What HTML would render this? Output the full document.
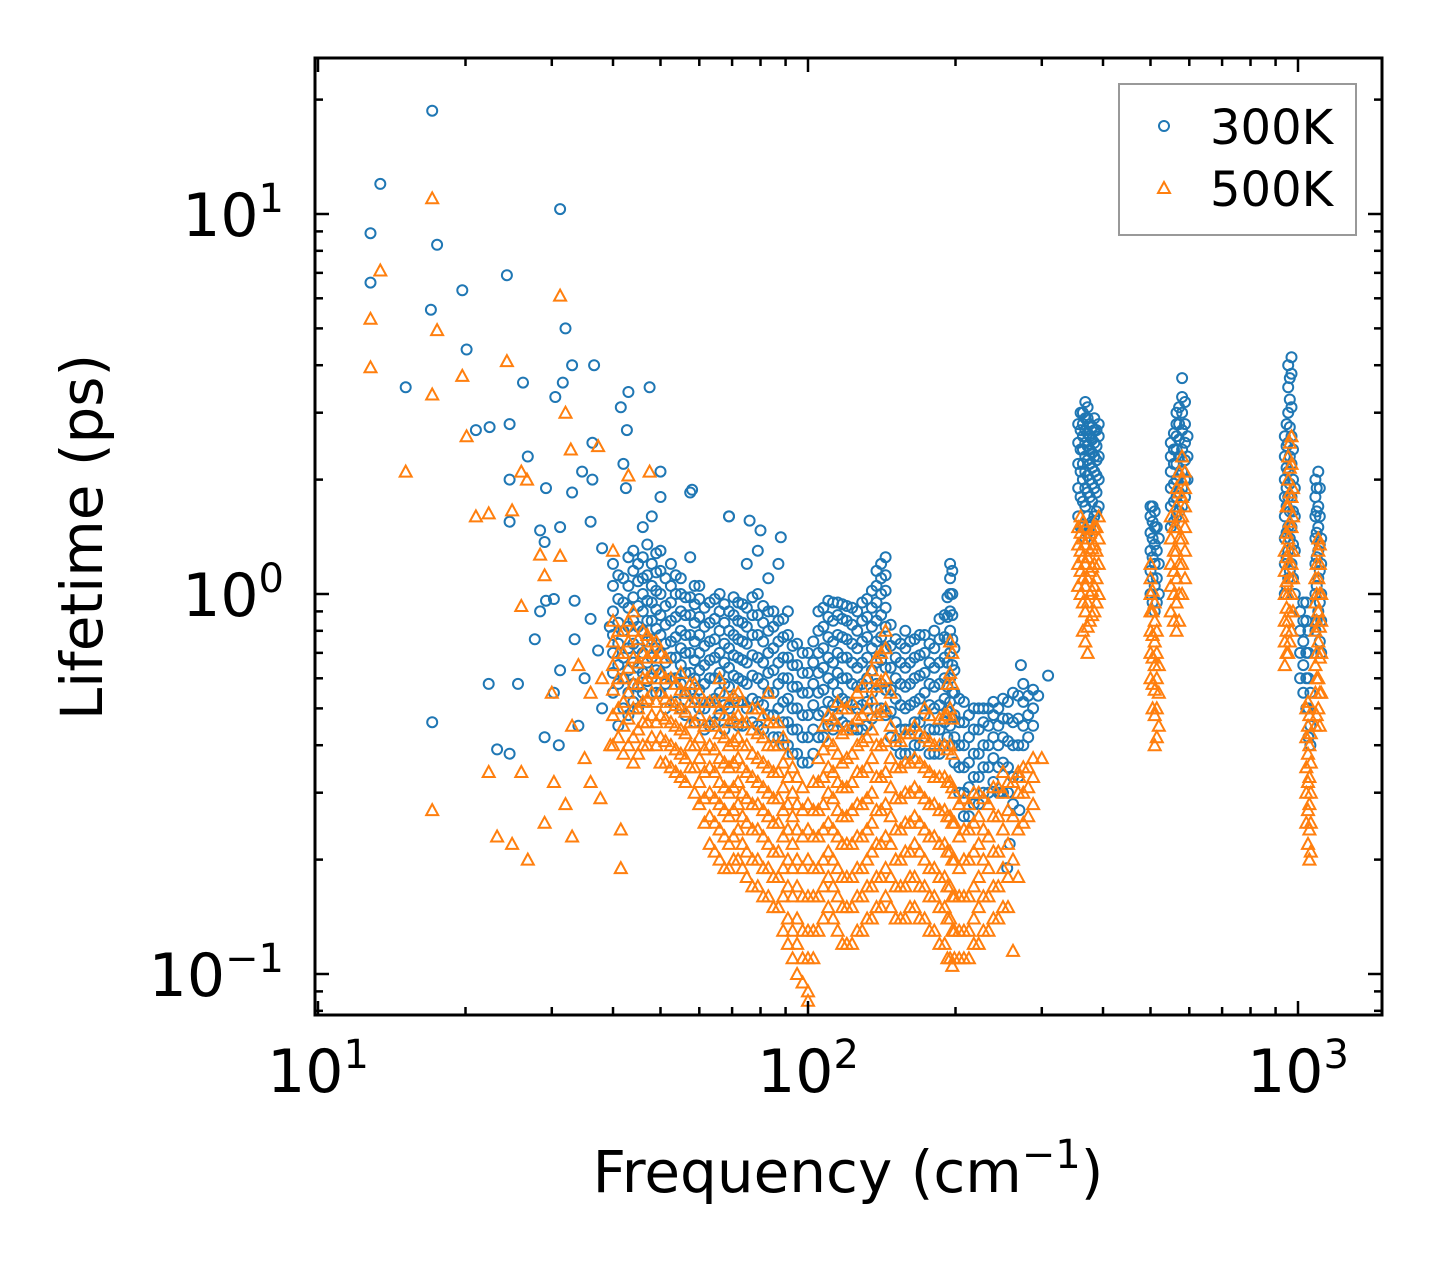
<!DOCTYPE html>
<html><head><meta charset="utf-8"><style>
html,body{margin:0;padding:0;background:#fff;}
svg{display:block;font-family:"DejaVu Sans","Liberation Sans",sans-serif;}
</style></head>
<body>
<svg id="chart" width="1442" height="1265" viewBox="0 0 1442 1265" xmlns="http://www.w3.org/2000/svg">
<rect width="1442" height="1265" fill="#fff"/>
<g id="marks"></g>
<g id="axes"></g>
<text x="848" y="1192" font-size="58" text-anchor="middle">Frequency (cm<tspan font-size="40" dy="-24">−1</tspan><tspan dy="24">)</tspan></text>
<text transform="translate(102,537) rotate(-90)" font-size="58" text-anchor="middle">Lifetime (ps)</text>
<g>
<rect x="1119" y="84" width="237" height="151" fill="#fff" stroke="#999" stroke-width="2"/>
<circle cx="1164" cy="126" r="5" fill="none" stroke="#1f77b4" stroke-width="2"/>
<text x="1210" y="144" font-size="48">300K</text>
<path d="M1164,182 L1170,193 L1158,193 Z" fill="none" stroke="#ff7f0e" stroke-width="2"/>
<text x="1210" y="206" font-size="48">500K</text>
</g>
</svg>
<script>
// ---- data ----
const blueSparse = [[12.8,8.9],[13.4,12],[17.1,18.7],[12.8,6.6],[17.5,8.3],[17.0,5.6],[19.7,6.3],[24.3,6.9],[31.2,10.3],[20.1,4.4],[15.1,3.5],[32,5.0],[33,4.0],[36.6,4.0],[31.6,3.6],[30.5,3.3],[43,3.4],[47.5,3.5],[41.5,3.1],[21,2.7],[22.4,2.75],[24.6,2.8],[26.2,3.6],[42.7,2.7],[36.3,2.5],[42,2.2],[26.8,2.3],[29.2,1.9],[34.6,2.1],[36.3,2.0],[24.6,2.0],[50,2.1],[42.5,1.9],[33,1.85],[31.2,1.5],[36,1.55],[28.4,1.47],[24.6,1.55],[29,1.37],[38,1.32],[58,1.88],[69,1.6],[76,1.56],[80,1.47],[88,1.41],[17.1,0.46],[22.3,0.58],[25.6,0.58],[23.2,0.39],[24.6,0.38],[29,0.42],[30.3,0.55],[29.2,0.96],[30.3,0.97],[28.4,0.9],[33.4,0.96],[36,0.86],[39.4,0.82],[27.7,0.76],[33.4,0.76],[37.3,0.71],[31.2,0.63],[309,0.61],[272,0.65],[295,0.54],[270,0.27],[258,0.22],[255,0.19],[247,0.30],[35,0.6],[38,0.5],[34,0.45],[31,0.4]];
const blueFreqs = [40,42,44,46,48,50,52.5,55,57.5,60,63,66,69,72,75,79,83,87,91,95,100,105,110,115,120,126,132,138,144,151,158,165,173,181,190,195,199,208,218,228,239,250,262,275,288,360,368,376,384,392,500,510,520,550,565,580,595,940,955,970,985,1010,1040,1060,1085,1100,1115];
const blueLifetimes = [
[0.55,0.62,0.7,0.78,0.9,1.05,1.2],[0.5,0.6,0.68,0.8,0.95,1.1],[0.52,0.58,0.66,0.74,0.85,0.98,1.15,1.3],[0.55,0.62,0.7,0.8,0.9,1.0,1.1,1.25,1.5],[0.6,0.68,0.76,0.85,0.95,1.05,1.2,1.6],[0.55,0.62,0.7,0.78,0.88,1.0,1.15,1.3,1.8],[0.6,0.68,0.75,0.85,0.95,1.05,1.2],[0.5,0.58,0.65,0.72,0.8,0.9,1.0,1.1],[0.55,0.62,0.7,0.78,0.88,0.98,1.25,1.85],[0.5,0.56,0.63,0.7,0.78,0.87,0.97,1.05],[0.45,0.52,0.6,0.67,0.75,0.84,0.95],[0.48,0.55,0.62,0.7,0.8,0.9,1.0],[0.5,0.57,0.64,0.72,0.8,0.9,1.6],[0.45,0.52,0.6,0.68,0.76,0.85,0.95],[0.5,0.58,0.66,0.74,0.82,0.92,1.2],[0.45,0.52,0.6,0.68,0.78,0.88,1.0,1.3],[0.48,0.55,0.62,0.7,0.8,0.9,1.1],[0.42,0.5,0.58,0.66,0.75,0.85,1.2],[0.4,0.46,0.53,0.6,0.68,0.78,0.9],[0.38,0.44,0.5,0.57,0.65,0.74],[0.36,0.42,0.48,0.55,0.62,0.7],[0.42,0.48,0.55,0.62,0.7,0.8,0.9],[0.45,0.52,0.6,0.68,0.77,0.87,0.96],[0.48,0.55,0.62,0.7,0.78,0.88,0.95],[0.45,0.52,0.6,0.68,0.76,0.85,0.93],[0.44,0.5,0.57,0.64,0.72,0.8,0.9],[0.45,0.52,0.6,0.68,0.77,0.87,0.97],[0.5,0.58,0.66,0.75,0.85,0.95,1.05,1.15],[0.48,0.56,0.64,0.72,0.82,0.92,1.02,1.12,1.25],[0.4,0.46,0.53,0.6,0.68,0.76],[0.38,0.44,0.5,0.57,0.64,0.72,0.8],[0.4,0.46,0.52,0.6,0.68,0.76],[0.42,0.48,0.55,0.62,0.7,0.78],[0.38,0.44,0.5,0.57,0.64,0.72,0.8],[0.4,0.46,0.53,0.6,0.68,0.77,0.88],[0.45,0.52,0.6,0.7,0.8,0.9,1.0,1.1,1.2],[0.36,0.42,0.48,0.55,0.63,0.72],[0.26,0.3,0.35,0.4,0.46,0.52],[0.28,0.33,0.38,0.44,0.5],[0.3,0.35,0.4,0.46,0.5],[0.32,0.37,0.42,0.48,0.52],[0.3,0.36,0.42,0.47,0.53],[0.28,0.33,0.4,0.46,0.55],[0.4,0.45,0.52,0.58],[0.45,0.5,0.56],
[1.5,1.8,2.1,2.4,2.7,3.0],[1.4,1.7,1.9,2.1,2.3,2.5,2.7,2.9,3.2],[1.5,1.8,2.0,2.2,2.4,2.6,2.8],[1.6,1.9,2.1,2.3,2.5,2.7,2.9],[1.7,2.0,2.3,2.6,2.8],
[1.0,1.15,1.3,1.45,1.6,1.7],[0.9,1.05,1.2,1.35,1.5,1.65],[1.0,1.2,1.4],
[1.5,1.7,1.9,2.1,2.3,2.5],[1.6,1.8,2.0,2.2,2.4,2.6,2.8,3.0],[1.7,1.9,2.1,2.4,2.7,3.0,3.3,3.7],[2.0,2.3,2.6],
[1.0,1.2,1.4,1.6,1.8,2.0,2.3,2.6],[1.1,1.3,1.5,1.8,2.1,2.5,3.0,3.5,4.0],[1.2,1.5,1.8,2.2,2.6,3.1,3.8,4.2],[1.0,1.3,1.6,1.9],
[0.6,0.7,0.8,0.9],[0.5,0.6,0.7,0.85,0.95],[0.4,0.45,0.55],
[0.8,1.0,1.2,1.4,1.6,1.8,2.0],[0.9,1.1,1.3,1.5,1.7,2.1],[0.7,0.85,1.0,1.2,1.4]];
const blueFreqs2 = [41,43,45,47,49,51.2,53.7,56.2,58.7,61.5,64.5,67.5,70.5,73.5,77,81,85,89,93,97.5,102.5,107.5,112.5,117.5,123,129,135,141,147.5,154.5,161.5,169,177,185.5,192.5,197,203.5,213,223,233.5,244.5,256,268.5,281.5,356,364,372,380,388,505,515,558,572,588,948,962,977,1025,1050,1092,1108];
const blueLifetimes2 = [
[0.45,0.58,0.65,0.74,0.84,0.97,1.12],[0.48,0.55,0.63,0.72,0.82,0.92,1.05,1.25],[0.5,0.57,0.64,0.72,0.82,0.93,1.08,1.2],[0.52,0.59,0.66,0.75,0.85,0.96,1.12,1.35],[0.55,0.63,0.72,0.81,0.91,1.02,1.14,1.28],[0.5,0.58,0.66,0.74,0.83,0.93,1.1],[0.52,0.6,0.68,0.77,0.87,1.0,1.12],[0.48,0.55,0.62,0.7,0.78,0.88,0.98],[0.46,0.53,0.6,0.67,0.75,0.84,0.94,1.05],[0.44,0.5,0.58,0.65,0.73,0.82,0.92],[0.46,0.53,0.6,0.68,0.76,0.86,0.97],[0.44,0.51,0.58,0.66,0.74,0.84,0.94],[0.46,0.53,0.61,0.69,0.78,0.88,0.98],[0.45,0.52,0.59,0.67,0.75,0.84,0.94],[0.46,0.53,0.61,0.69,0.78,0.88,0.98],[0.44,0.51,0.58,0.66,0.75,0.84,0.93],[0.42,0.48,0.55,0.63,0.72,0.82,0.9],[0.4,0.46,0.52,0.6,0.68,0.77,0.86],[0.38,0.44,0.5,0.57,0.65,0.73],[0.36,0.42,0.48,0.55,0.62,0.7],[0.38,0.44,0.51,0.58,0.66,0.75],[0.42,0.49,0.56,0.64,0.72,0.82,0.92],[0.44,0.51,0.58,0.66,0.75,0.85,0.95],[0.46,0.53,0.6,0.68,0.77,0.86,0.94],[0.44,0.51,0.58,0.66,0.74,0.83,0.92],[0.44,0.51,0.58,0.66,0.75,0.85,0.95],[0.47,0.55,0.63,0.72,0.82,0.92,1.02],[0.5,0.58,0.67,0.77,0.88,1.0,1.1,1.2],[0.42,0.49,0.56,0.64,0.73,0.83],[0.38,0.44,0.51,0.58,0.66,0.74],[0.38,0.44,0.51,0.58,0.66,0.75],[0.4,0.46,0.53,0.61,0.69,0.78],[0.38,0.44,0.51,0.58,0.66,0.74],[0.38,0.44,0.51,0.58,0.66,0.76,0.86],[0.42,0.49,0.57,0.66,0.76,0.87,0.98],[0.4,0.47,0.55,0.65,0.76,0.88,1.0,1.15],[0.3,0.35,0.4,0.46,0.53],[0.26,0.31,0.36,0.42,0.48],[0.28,0.33,0.38,0.44,0.5],[0.3,0.35,0.4,0.45,0.5],[0.3,0.35,0.4,0.45,0.5],[0.3,0.35,0.41,0.47,0.52],[0.33,0.4,0.47,0.54],[0.42,0.48,0.54],
[1.6,1.9,2.2,2.5,2.8],[1.5,1.75,2.0,2.2,2.4,2.6,2.8,3.0],[1.45,1.6,1.85,2.05,2.25,2.45,2.65,2.9,3.1],[1.55,1.75,1.95,2.15,2.35,2.55,2.75],[1.65,1.85,2.05,2.25,2.45,2.7],
[0.95,1.1,1.25,1.4,1.55,1.7],[0.95,1.1,1.3,1.5],
[1.55,1.75,1.95,2.2,2.4,2.65],[1.65,1.85,2.05,2.3,2.55,2.8,3.1],[1.8,2.0,2.25,2.5,2.8,3.2],
[1.05,1.25,1.45,1.7,1.9,2.15,2.45,2.8],[1.15,1.4,1.65,1.95,2.3,2.75,3.25,3.7],[1.1,1.35,1.65,2.0,2.4],
[0.55,0.65,0.75,0.85,0.95],[0.42,0.5,0.6,0.7,0.8],[0.85,1.05,1.25,1.45,1.65,1.9],[0.75,0.95,1.15,1.35,1.6,1.9]];

const orangeSparse = [[12.8,5.3],[12.8,3.95],[13.4,7.1],[15.1,2.1],[17.1,11],[17.1,3.35],[17.5,4.95],[17.1,0.27],[19.7,3.75],[20.1,2.6],[21,1.6],[22.3,1.63],[24.3,4.1],[24.9,1.66],[26,2.1],[26.7,2.0],[31.2,6.1],[32,3.0],[32.8,2.4],[37.3,2.45],[43,2.05],[47.5,2.1],[26,0.93],[29,1.12],[31.2,1.26],[28.4,1.27],[22.3,0.34],[23.2,0.23],[24.9,0.22],[26,0.34],[26.8,0.2],[29,0.25],[30.3,0.32],[33,0.23],[41.5,0.19],[41.5,0.24],[37.7,0.29],[35,0.37],[39.5,0.4],[33,0.45],[36,0.55],[30,0.55],[34,0.65],[38,0.6],[32,0.28],[36,0.32],[270,0.33],[300,0.37],[262,0.115]];
const orangeFreqs = [40,42,44,46,48,50,52.5,55,57.5,60,63,66,69,72,75,79,83,87,91,95,100,105,110,115,120,126,132,138,144,151,158,165,173,181,190,195,199,208,218,228,239,250,262,275,288,360,368,376,384,392,500,510,520,550,565,580,940,955,970,1040,1055,1085,1100,1115];
const orangeLifetimes = [
[0.4,0.48,0.56,0.65,0.75,0.85,1.3],[0.38,0.45,0.52,0.6,0.7,0.8],[0.36,0.42,0.5,0.58,0.68,0.8,0.9],[0.4,0.46,0.52,0.6,0.7,0.8],[0.42,0.48,0.55,0.62,0.7,0.75],[0.36,0.42,0.48,0.55,0.62,0.7],[0.35,0.4,0.46,0.52,0.6],[0.33,0.38,0.44,0.5,0.56,0.62],[0.35,0.4,0.46,0.52,0.58],[0.28,0.32,0.37,0.42,0.48,0.55],[0.22,0.26,0.3,0.35,0.4,0.46,0.52],[0.2,0.24,0.28,0.32,0.37,0.43,0.5,0.6],[0.19,0.22,0.26,0.3,0.35,0.4,0.46,0.52],[0.2,0.24,0.28,0.32,0.37,0.42,0.48,0.55],[0.18,0.21,0.25,0.29,0.34,0.4,0.46],[0.17,0.2,0.24,0.28,0.32,0.37,0.43,0.5],[0.16,0.19,0.22,0.26,0.3,0.35,0.4,0.46,0.55],[0.15,0.18,0.21,0.25,0.29,0.34,0.4,0.46],[0.12,0.14,0.17,0.2,0.24,0.28,0.33,0.38],[0.1,0.12,0.14,0.17,0.2,0.24,0.28,0.33],[0.085,0.09,0.11,0.13,0.16,0.2,0.24,0.28],[0.13,0.16,0.19,0.23,0.27,0.32,0.37],[0.15,0.18,0.21,0.25,0.3,0.35,0.41,0.48],[0.13,0.16,0.19,0.23,0.27,0.32,0.38,0.45,0.52],[0.12,0.15,0.18,0.22,0.26,0.31,0.37,0.44,0.5],[0.13,0.16,0.19,0.23,0.28,0.34,0.4,0.47,0.55],[0.14,0.17,0.2,0.24,0.29,0.35,0.42,0.5,0.6],[0.15,0.18,0.22,0.27,0.33,0.4,0.48,0.57,0.68],[0.16,0.19,0.23,0.28,0.34,0.41,0.5,0.6,0.72,0.8],[0.14,0.17,0.2,0.24,0.29,0.35,0.42],[0.14,0.17,0.21,0.25,0.3,0.36,0.43],[0.15,0.18,0.22,0.26,0.31,0.37,0.45],[0.14,0.17,0.2,0.24,0.29,0.35,0.42,0.5],[0.13,0.16,0.19,0.23,0.28,0.33,0.4],[0.12,0.15,0.18,0.22,0.27,0.33,0.4,0.48],[0.11,0.14,0.17,0.21,0.26,0.32,0.4,0.5,0.62,0.75],[0.11,0.13,0.16,0.2,0.25,0.3],[0.11,0.13,0.16,0.2,0.24,0.29],[0.12,0.14,0.17,0.21,0.25,0.3],[0.13,0.16,0.2,0.24,0.29],[0.14,0.17,0.21,0.26,0.31],[0.15,0.19,0.24,0.3,0.34],[0.2,0.26,0.32],[0.25,0.3,0.35],[0.28,0.33,0.37],
[1.0,1.15,1.3,1.45,1.6],[0.75,0.9,1.05,1.2,1.35,1.5],[0.85,1.0,1.15,1.3,1.45],[0.9,1.05,1.2,1.35,1.5],[1.0,1.2,1.4,1.6],
[0.6,0.7,0.8,0.9,1.0,1.1,1.2],[0.4,0.48,0.56,0.65,0.75,0.85,0.95],[0.45,0.55,0.65],
[0.9,1.05,1.2,1.4,1.6],[0.8,0.95,1.1,1.3,1.5,1.7,1.9],[1.0,1.2,1.4,1.6,1.8,2.0,2.3],
[0.65,0.75,0.85,1.0,1.15,1.3],[0.7,0.85,1.0,1.2,1.4,1.7,2.0,2.3],[0.8,1.0,1.2,1.5,1.8,2.2,2.6],
[0.25,0.3,0.35,0.42,0.5],[0.2,0.24,0.28,0.33,0.4,0.48],
[0.45,0.55,0.65,0.8,0.95,1.1],[0.5,0.6,0.75,0.9,1.1,1.3,1.4],[0.55,0.7,0.85,1.0]];
const orangeFreqs2 = [41,43,45,47,49,51.2,53.7,56.2,58.7,61.5,64.5,67.5,70.5,73.5,77,81,85,89,93,97.5,102.5,107.5,112.5,117.5,123,129,135,141,147.5,154.5,161.5,169,177,185.5,192.5,197,203.5,213,223,233.5,244.5,256,268.5,281.5,356,364,372,380,388,505,515,558,572,588,948,962,977,1048,1062,1092,1108];
const orangeLifetimes2 = [
[0.42,0.5,0.6,0.7,0.8],[0.4,0.47,0.55,0.64,0.75,0.85],[0.38,0.44,0.5,0.58,0.66,0.76],[0.4,0.46,0.53,0.6,0.68,0.78],[0.4,0.46,0.52,0.6,0.68,0.75],[0.36,0.41,0.47,0.53,0.6,0.68],[0.34,0.39,0.45,0.51,0.58],[0.32,0.37,0.43,0.49,0.55],[0.3,0.35,0.4,0.46,0.52,0.58],[0.25,0.29,0.34,0.39,0.45,0.52],[0.21,0.25,0.29,0.34,0.39,0.45,0.52],[0.19,0.23,0.27,0.31,0.36,0.42,0.48,0.55],[0.2,0.23,0.27,0.31,0.36,0.41,0.47,0.54],[0.19,0.22,0.26,0.3,0.35,0.4,0.46,0.52],[0.17,0.2,0.24,0.28,0.33,0.38,0.44,0.5],[0.16,0.19,0.23,0.27,0.31,0.36,0.42,0.48],[0.15,0.18,0.21,0.25,0.29,0.34,0.4,0.46],[0.13,0.16,0.19,0.23,0.27,0.31,0.36,0.42],[0.11,0.13,0.16,0.19,0.22,0.26,0.3,0.35],[0.095,0.11,0.13,0.16,0.19,0.23,0.27,0.31],[0.11,0.13,0.16,0.19,0.23,0.27,0.32],[0.14,0.17,0.2,0.24,0.28,0.33,0.39,0.45],[0.14,0.17,0.2,0.24,0.29,0.34,0.4,0.47],[0.12,0.15,0.18,0.22,0.26,0.31,0.36,0.43,0.5],[0.12,0.15,0.18,0.22,0.27,0.32,0.38,0.45,0.52],[0.13,0.16,0.19,0.23,0.28,0.34,0.41,0.48,0.57],[0.14,0.17,0.21,0.25,0.3,0.37,0.44,0.53,0.63],[0.15,0.18,0.22,0.27,0.33,0.4,0.49,0.59,0.7],[0.15,0.18,0.22,0.26,0.31,0.37,0.45,0.55],[0.14,0.17,0.2,0.24,0.29,0.35,0.41],[0.15,0.18,0.21,0.25,0.3,0.36,0.43],[0.14,0.17,0.21,0.25,0.3,0.36,0.43],[0.13,0.16,0.19,0.23,0.28,0.34,0.41,0.48],[0.12,0.15,0.18,0.22,0.27,0.33,0.4,0.47],[0.11,0.14,0.17,0.21,0.26,0.32,0.39,0.48,0.58],[0.105,0.13,0.16,0.2,0.25,0.31,0.38,0.47,0.58,0.7],[0.11,0.13,0.16,0.19,0.23,0.28],[0.11,0.13,0.16,0.2,0.24,0.28],[0.12,0.15,0.18,0.22,0.26,0.3],[0.13,0.16,0.19,0.23,0.28],[0.14,0.17,0.21,0.26,0.31],[0.15,0.18,0.22,0.27,0.32],[0.18,0.24,0.3,0.34],[0.26,0.31,0.35],
[1.05,1.2,1.35,1.5],[0.8,0.95,1.1,1.25,1.4,1.55],[0.7,0.82,0.95,1.1,1.25,1.4],[0.88,1.02,1.18,1.32,1.48],[0.95,1.1,1.3,1.5],
[0.5,0.58,0.68,0.78,0.9,1.02],[0.42,0.5,0.6,0.7,0.8],
[0.85,1.0,1.15,1.3,1.5],[0.85,1.0,1.2,1.4,1.6,1.85,2.1],[1.1,1.3,1.5,1.7,1.9,2.1],
[0.7,0.8,0.92,1.08,1.25,1.45,1.7],[0.75,0.9,1.1,1.3,1.55,1.85,2.15,2.5],[0.9,1.1,1.3,1.6,1.9],
[0.22,0.27,0.32,0.38,0.45,0.52],[0.21,0.25,0.3,0.36,0.43],[0.48,0.6,0.7,0.85,1.0,1.2],[0.45,0.55,0.68,0.82,1.0,1.2,1.35]];

const xTickLabels = ["1","2","3"];
const yTickLabels = ["1","0","−1"];

// ---- axes ----
const L=315,R=1382,T=58,B=1015;
const xScale = f => 318 + (Math.log10(f)-1)*490;
const yScale = t => 594 - Math.log10(t)*380;
const NS="http://www.w3.org/2000/svg";
const marks=document.getElementById('marks');
const axes=document.getElementById('axes');
function mk(tag,attrs,parent){const e=document.createElementNS(NS,tag);for(const k in attrs)e.setAttribute(k,attrs[k]);parent.appendChild(e);return e;}

function blue(f,t){
  const c=mk('circle',{cx:xScale(f).toFixed(1),cy:yScale(t).toFixed(1),r:5,fill:'none',stroke:'#1f77b4','stroke-width':2},marks);
  
  
}
function orange(f,t){
  const x=xScale(f),y=yScale(t);
  const p=mk('path',{d:`M${x.toFixed(1)},${(y-6).toFixed(1)} L${(x+6).toFixed(1)},${(y+5).toFixed(1)} L${(x-6).toFixed(1)},${(y+5).toFixed(1)} Z`,fill:'none',stroke:'#ff7f0e','stroke-width':2},marks);
  
  
}
blueSparse.forEach(p=>blue(p[0],p[1]));
blueFreqs.forEach((f,i)=>blueLifetimes[i].forEach(t=>blue(f,t)));
blueFreqs2.forEach((f,i)=>blueLifetimes2[i].forEach(t=>blue(f,t)));
orangeSparse.forEach(p=>orange(p[0],p[1]));
orangeFreqs.forEach((f,i)=>orangeLifetimes[i].forEach(t=>orange(f,t)));
orangeFreqs2.forEach((f,i)=>orangeLifetimes2[i].forEach(t=>orange(f,t)));

// ticks
function tick(x1,y1,x2,y2,name){const l=mk('line',{x1,y1,x2,y2,stroke:'#000','stroke-width':2.5},axes);
  
  }
for(let d=1;d<=3;d++){
  for(let m=1;m<=9;m++){
    const v=m*Math.pow(10,d);const x=xScale(v);
    if(x<L||x>R)continue;
    const len=m===1?14:8;
    tick(x,B,x,B-len,'x-tick');tick(x,T,x,T+len,'x-tick-top');
  }
}
xTickLabels.forEach((e,i)=>{
  const x=xScale(Math.pow(10,i+1));
  const t=mk('text',{x:x,y:1092,'font-size':60,'text-anchor':'middle'},axes);
  
  
  t.innerHTML=`10<tspan font-size="40" dy="-24">${e}</tspan>`;
});
for(let d=-2;d<=1;d++){
  for(let m=1;m<=9;m++){
    const v=m*Math.pow(10,d);const y=yScale(v);
    if(y<T||y>B)continue;
    const len=m===1?14:8;
    tick(L,y,L+len,y,'y-tick');tick(R,y,R-len,y,'y-tick-right');
  }
}
yTickLabels.forEach((e,i)=>{
  const y=yScale(Math.pow(10,1-i));
  const t=mk('text',{x:284,y:y+22,'font-size':60,'text-anchor':'end'},axes);
  
  
  t.innerHTML=`10<tspan font-size="40" dy="-24">${e}</tspan>`;
});
const fr=mk('rect',{x:L,y:T,width:R-L,height:B-T,fill:'none',stroke:'#000','stroke-width':3},axes);


</script>
</body></html>
